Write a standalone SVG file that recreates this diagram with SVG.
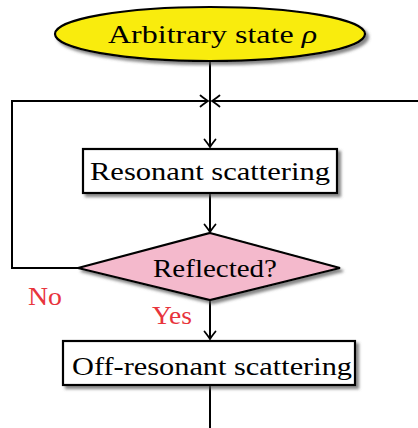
<svg xmlns="http://www.w3.org/2000/svg" width="418" height="428" viewBox="0 0 418 428">
<style>
.t{font-family:"Liberation Serif","DejaVu Serif",serif;font-size:25px;fill:#000;}
.lbl{font-family:"Liberation Serif","DejaVu Serif",serif;font-size:25px;fill:#e8343c;}
.ln{fill:none;stroke:#000;stroke-width:2;}
.nd{stroke:#000;stroke-width:2.2;}
</style>
<defs>
<filter id="sh" x="-20%" y="-30%" width="140%" height="170%">
<feDropShadow dx="3" dy="3" stdDeviation="1.5" flood-color="#555" flood-opacity="0.7"/>
</filter>
<marker id="ar" viewBox="-9 -7 11 14" markerWidth="11" markerHeight="14" refX="0" refY="0" orient="auto" markerUnits="userSpaceOnUse">
<path d="M-7.5,-5.5 Q-2,-1.2 0,0 Q-2,1.2 -7.5,5.5" fill="none" stroke="#000" stroke-width="1.8" stroke-linecap="round"/>
</marker>
</defs>
<g id="connectors">
<path class="ln" d="M210,61 V147" marker-end="url(#ar)"/>
<path class="ln" d="M78,268 H12 V101 H208" marker-end="url(#ar)"/>
<path class="ln" d="M418,101 H212" marker-end="url(#ar)"/>
<path class="ln" d="M210,193 V232" marker-end="url(#ar)"/>
<path class="ln" d="M210,300 V339" marker-end="url(#ar)"/>
<path class="ln" d="M210,385 V428"/>
<text class="lbl" x="28" y="305" textLength="34" lengthAdjust="spacingAndGlyphs">No</text>
<text class="lbl" x="152" y="324" textLength="40" lengthAdjust="spacingAndGlyphs">Yes</text>
</g>
<g id="start">
<ellipse class="nd" cx="210" cy="34" rx="155" ry="27" fill="#f9ec0c" filter="url(#sh)"/>
<text class="t" x="108" y="43" textLength="209" lengthAdjust="spacingAndGlyphs">Arbitrary state <tspan font-style="italic">ρ</tspan></text>
</g>
<g id="resonant">
<rect class="nd" x="83" y="149" width="254" height="44" fill="#fff" filter="url(#sh)"/>
<text class="t" x="90" y="180" textLength="240" lengthAdjust="spacingAndGlyphs">Resonant scattering</text>
</g>
<g id="reflected">
<polygon class="nd" points="210,233 340,268 210,300 78,268" fill="#f4b9cc" filter="url(#sh)"/>
<text class="t" x="153" y="277" textLength="124" lengthAdjust="spacingAndGlyphs">Reflected?</text>
</g>
<g id="offresonant">
<rect class="nd" x="63" y="341" width="292" height="44" fill="#fff" filter="url(#sh)"/>
<text class="t" x="72" y="375" textLength="280" lengthAdjust="spacingAndGlyphs">Off-resonant scattering</text>
</g>
</svg>
